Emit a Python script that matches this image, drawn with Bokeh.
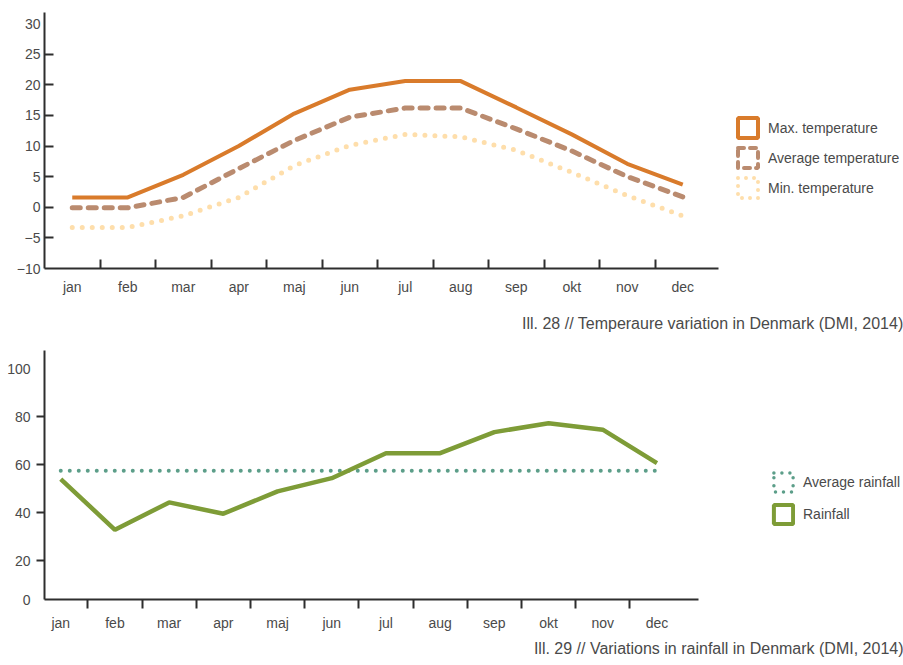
from bokeh.plotting import figure
from bokeh.models import FixedTicker, Legend, LegendItem, Title, Range1d
from bokeh.layouts import column
from bokeh.embed import file_html
from bokeh.resources import INLINE

# ---------------- data ----------------
months = ["jan", "feb", "mar", "apr", "maj", "jun", "jul", "aug", "sep", "okt", "nov", "dec"]
max_temp = [1.6, 1.6, 5.3, 10.0, 15.3, 19.2, 20.6, 20.6, 16.3, 11.9, 7.1, 3.7]
avg_temp = [-0.1, -0.1, 1.6, 6.3, 10.9, 14.7, 16.2, 16.2, 12.8, 9.2, 5.0, 1.7]
min_temp = [-3.3, -3.3, -1.4, 1.6, 6.8, 10.1, 11.9, 11.5, 9.3, 5.7, 1.9, -1.4]
temp_ticks = [-10, -5, 0, 5, 10, 15, 20, 25, 30]

rainfall = [53.9, 32.8, 44.2, 39.5, 48.8, 54.3, 64.7, 64.7, 73.5, 77.2, 74.5, 60.6]
avg_rainfall = [57.4, 57.4, 57.4, 57.4, 57.4, 57.4, 57.4, 57.4, 57.4, 57.4, 57.4, 57.4]
rain_ticks = [0, 20, 40, 60, 80, 100]

caption_top = "Ill. 28 // Temperaure variation in Denmark (DMI, 2014)"
caption_bottom = "Ill. 29 // Variations in rainfall in Denmark (DMI, 2014)"

# ---------------- style ----------------
FONT = "Liberation Sans"
TXT = "#4a4a4a"
AX = "#2e2e2e"
C_MAX = "#D97B2B"
C_AVG = "#BA8B6F"
C_MIN = "#FEDEAB"
C_RAIN = "#7E9C37"
C_ARAIN = "#5C9E89"
NAN = float("nan")

xs = list(range(len(months)))
x_minor = [i + 0.5 for i in range(len(months) - 1)]

FRAME_W = 859


def base_fig(frame_h, x0, px_per_month, x_end, y_range, border_top):
    xr = Range1d(x0, x0 + FRAME_W / px_per_month)
    p = figure(frame_width=FRAME_W, frame_height=frame_h, x_range=xr, y_range=y_range,
               title=None, output_backend="svg", toolbar_location=None,
               min_border_left=44, min_border_right=0,
               min_border_top=border_top, min_border_bottom=0)
    p.outline_line_color = None
    p.xgrid.visible = False
    p.ygrid.visible = False
    p.background_fill_color = "white"
    p.border_fill_color = "white"
    for ax in (p.xaxis[0], p.yaxis[0]):
        ax.axis_line_color = AX
        ax.axis_line_width = 2
        ax.major_tick_line_color = None
        ax.minor_tick_line_color = AX
        ax.minor_tick_line_width = 2
        ax.major_label_text_font = FONT
        ax.major_label_text_font_size = "14px"
        ax.major_label_text_color = TXT
    p.xaxis.ticker = FixedTicker(ticks=xs, minor_ticks=x_minor)
    p.xaxis.major_label_overrides = {i: m for i, m in enumerate(months)}
    p.xaxis.bounds = (x0, x_end)
    return p


def caption(text, standoff):
    return Title(text=text, align="right", standoff=standoff, vertical_align="top",
                 text_font=FONT, text_font_size="16px", text_color=TXT,
                 text_font_style="normal")


def legend(items, loc, glyph, spacing):
    return Legend(items=items, location=loc, glyph_width=glyph, glyph_height=glyph,
                  spacing=spacing, label_standoff=8, padding=0, margin=0,
                  border_line_color=None, background_fill_alpha=0,
                  label_text_font=FONT, label_text_font_size="14px",
                  label_text_color=TXT)


# ---------------- top chart: temperature ----------------
p1 = base_fig(256, -0.5, 55.5, 11.64, Range1d(-10, 31.8), 12)
p1.xaxis.major_tick_in = 0
p1.xaxis.major_tick_out = 0
p1.xaxis.minor_tick_in = 9
p1.xaxis.minor_tick_out = 0
p1.xaxis.major_label_standoff = 10
p1.yaxis.ticker = FixedTicker(ticks=temp_ticks, minor_ticks=temp_ticks[1:-1])
p1.yaxis.major_tick_in = 0
p1.yaxis.major_tick_out = 0
p1.yaxis.minor_tick_in = 9
p1.yaxis.minor_tick_out = 0
p1.yaxis.major_label_standoff = 4

p1.line(xs, min_temp, line_color=C_MIN, line_width=5, line_dash="0 10", line_cap="round")
p1.line(xs, avg_temp, line_color=C_AVG, line_width=5, line_dash="8 8", line_cap="round")
p1.line(xs, max_temp, line_color=C_MAX, line_width=4)

lg_max = p1.rect(x=[NAN], y=[NAN], width=1, height=1, fill_color="white",
                 line_color=C_MAX, line_width=4)
lg_avg = p1.rect(x=[NAN], y=[NAN], width=1, height=1, fill_color="white",
                 line_color=C_AVG, line_width=4, line_dash="6 6", line_cap="round")
lg_min = p1.rect(x=[NAN], y=[NAN], width=1, height=1, fill_color="white",
                 line_color=C_MIN, line_width=4, line_dash="0 8", line_cap="round")
p1.add_layout(legend([LegendItem(label="Max. temperature", renderers=[lg_max]),
                      LegendItem(label="Average temperature", renderers=[lg_avg]),
                      LegendItem(label="Min. temperature", renderers=[lg_min])],
                     (691, 68), 25, 5))
p1.add_layout(caption(caption_top, 34), "below")

# ---------------- bottom chart: rainfall ----------------
rain_y0 = 3.75
p2 = base_fig(249, -0.3, 54.2, 11.77, Range1d(rain_y0, 107.5), 0)
p2.xaxis.major_tick_in = 0
p2.xaxis.major_tick_out = 9
p2.xaxis.minor_tick_in = 0
p2.xaxis.minor_tick_out = 9
p2.xaxis.major_label_standoff = 6
# the "0" label sits at the foot of the axis, as in the reference
p2.yaxis.ticker = FixedTicker(ticks=[rain_y0] + rain_ticks[1:], minor_ticks=rain_ticks[1:-1])
p2.yaxis.major_label_overrides = {rain_y0: str(rain_ticks[0])}
p2.yaxis.major_tick_in = 0
p2.yaxis.major_tick_out = 8
p2.yaxis.minor_tick_in = 0
p2.yaxis.minor_tick_out = 8
p2.yaxis.major_label_standoff = 6

p2.line(xs, avg_rainfall, line_color=C_ARAIN, line_width=4, line_dash="0 9", line_cap="round")
p2.line(xs, rainfall, line_color=C_RAIN, line_width=4.5)

lg_arain = p2.rect(x=[NAN], y=[NAN], width=1, height=1, fill_color="white",
                   line_color=C_ARAIN, line_width=3.5, line_dash="0 8", line_cap="round")
lg_rain = p2.rect(x=[NAN], y=[NAN], width=1, height=1, fill_color="white",
                  line_color=C_RAIN, line_width=4)
p2.add_layout(legend([LegendItem(label="Average rainfall", renderers=[lg_arain]),
                      LegendItem(label="Rainfall", renderers=[lg_rain])],
                     (727, 73), 24, 8))
p2.add_layout(caption(caption_bottom, 12), "below")

layout = column(p1, p2)
open("out.html", "w").write(file_html(layout, INLINE))
